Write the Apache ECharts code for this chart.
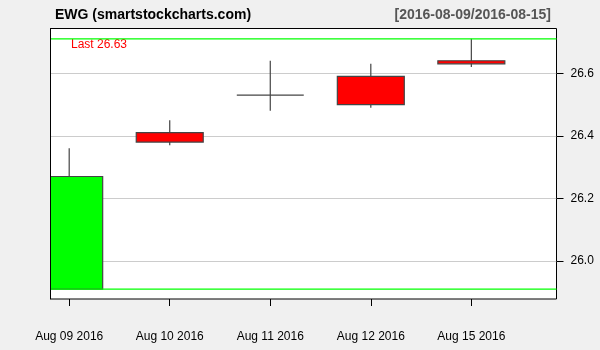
<!DOCTYPE html>
<html>
<head>
<meta charset="utf-8">
<script src="https://cdn.jsdelivr.net/npm/echarts@6/dist/echarts.min.js"></script>
<style>
html,body{margin:0;padding:0;background:#f0f0f0;}
#chart{width:600px;height:350px;}
</style>
</head>
<body>
<div id="chart"></div>
<script>
const dates = ['Aug 09 2016', 'Aug 10 2016', 'Aug 11 2016', 'Aug 12 2016', 'Aug 15 2016'];
const opens = [25.91, 26.41, 26.53, 26.59, 26.64];
const closes = [26.27, 26.38, 26.53, 26.50, 26.63];
const lows = [25.91, 26.37, 26.48, 26.49, 26.62];
const highs = [26.36, 26.45, 26.64, 26.63, 26.71];
const yTicks = [26.0, 26.2, 26.4, 26.6];
const titleText = 'EWG (smartstockcharts.com)';
const rangeText = '[2016-08-09/2016-08-15]';
const lastText = 'Last 26.63';

const FONT = 'Liberation Sans, Arial, sans-serif';
const X_MIN = -0.186, X_MAX = 4.847;
const Y_MIN = 25.8785, Y_MAX = 26.743;
const BODY_W = 0.666;
const xIdx = dates.map((d, i) => i);
const candleData = dates.map((d, i) => [i, opens[i], closes[i], lows[i], highs[i]]);
const rangeHigh = Math.max(...highs);
const rangeLow = Math.min(...lows);

function renderCandle(params, api) {
  const x = api.value(0), o = api.value(1), c = api.value(2), l = api.value(3), h = api.value(4);
  const pO = api.coord([x, o]), pC = api.coord([x, c]);
  const pL = api.coord([x, l]), pH = api.coord([x, h]);
  const w = api.size([BODY_W, 0])[0];
  const top = Math.min(pO[1], pC[1]), bot = Math.max(pO[1], pC[1]);
  const stroke = '#444';
  const children = [{
    type: 'line', shape: {x1: pH[0], y1: pH[1], x2: pL[0], y2: pL[1]},
    style: {stroke: stroke, lineWidth: 1.2}
  }];
  if (c === o) {
    children.push({type: 'line', shape: {x1: pO[0] - w / 2, y1: pO[1], x2: pO[0] + w / 2, y2: pO[1]},
      style: {stroke: stroke, lineWidth: 1.2}});
  } else {
    children.push({type: 'rect', shape: {x: pO[0] - w / 2, y: top, width: w, height: bot - top},
      style: {fill: c > o ? '#00ff00' : '#ff0000', stroke: stroke, lineWidth: 1.2}});
  }
  return {type: 'group', children: children};
}

const chart = echarts.init(document.getElementById('chart'), null, {renderer: 'canvas'});
chart.setOption({
  backgroundColor: '#f0f0f0',
  animation: false,
  title: [
    {text: titleText, left: 50, top: 3, textStyle: {fontFamily: FONT, fontSize: 14, fontWeight: 'bold', color: '#000'}},
    {text: rangeText, right: 44, top: 3, textStyle: {fontFamily: FONT, fontSize: 14, fontWeight: 'bold', color: '#555'}}
  ],
  grid: {
    left: 50.5, right: 43.5, top: 28.5, bottom: 51,
    show: true, backgroundColor: '#fff', borderColor: '#000', borderWidth: 1
  },
  xAxis: {
    type: 'value', min: X_MIN, max: X_MAX,
    axisLine: {show: false, onZero: false},
    axisTick: {show: true, length: 7, lineStyle: {color: '#000'}, customValues: xIdx},
    axisLabel: {show: true, margin: 32, fontFamily: FONT, fontSize: 12, color: '#000',
      customValues: xIdx, formatter: v => dates[Math.round(v)]},
    splitLine: {show: false}
  },
  yAxis: [
    {
      type: 'value', position: 'right', min: Y_MIN, max: Y_MAX, scale: true,
      axisLine: {show: false, onZero: false},
      axisTick: {show: true, length: 7, lineStyle: {color: '#000'}, customValues: yTicks},
      axisLabel: {show: true, margin: 14, fontFamily: FONT, fontSize: 12, color: '#000',
        customValues: yTicks, formatter: v => v.toFixed(1)},
      splitLine: {show: true, lineStyle: {color: '#cccccc', width: 1}}
    },
    {
      type: 'value', position: 'left', min: Y_MIN, max: Y_MAX, scale: true, z: 10,
      axisLine: {show: true, onZero: false, lineStyle: {color: '#000', width: 1}},
      axisTick: {show: false}, axisLabel: {show: false}, splitLine: {show: false}
    }
  ],
  graphic: [
    {type: 'text', left: 71, top: 39, style: {text: lastText, fill: '#ff0000', font: '12px ' + FONT}}
  ],
  series: [
    {
      type: 'custom', clip: true, renderItem: renderCandle,
      data: candleData, encode: {x: 0, y: [1, 2, 3, 4]}, z: 3
    },
    {
      type: 'line', symbol: 'none', silent: true, z: 4,
      lineStyle: {color: '#00ff00', width: 1.2},
      data: [[X_MIN, rangeHigh], [X_MAX, rangeHigh]]
    },
    {
      type: 'line', symbol: 'none', silent: true, z: 4,
      lineStyle: {color: '#00ff00', width: 1.2},
      data: [[X_MIN, rangeLow], [X_MAX, rangeLow]]
    }
  ]
});
</script>
</body>
</html>
